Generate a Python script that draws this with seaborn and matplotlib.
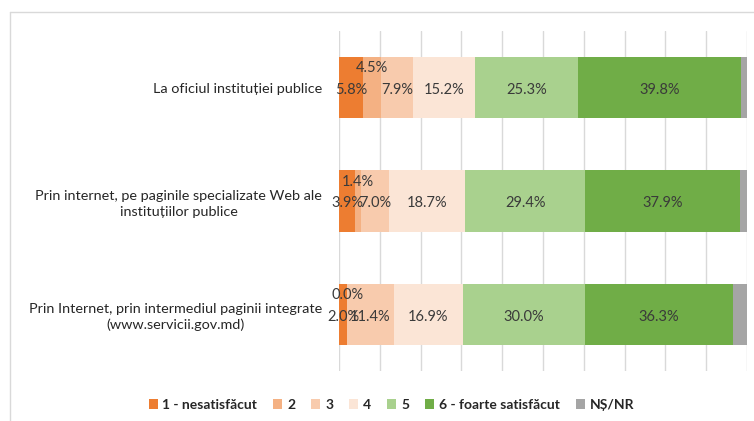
import matplotlib
matplotlib.use("Agg")
import matplotlib.pyplot as plt
import numpy as np
import pandas as pd
import seaborn as sns
from matplotlib.patches import Patch
from matplotlib.lines import Line2D

# Survey: satisfaction with how public services were accessed (shares, %)
channels = [
    "La oficiul instituției publice",
    "Prin internet, pe paginile specializate Web ale\ninstituțiilor publice",
    "Prin Internet, prin intermediul paginii integrate\n(www.servicii.gov.md)",
]
levels = ["1 - nesatisfăcut", "2", "3", "4", "5", "6 - foarte satisfăcut", "NȘ/NR"]

score_1 = [5.8, 3.9, 2.0]
score_2 = [4.5, 1.4, 0.0]
score_3 = [7.9, 7.0, 11.4]
score_4 = [15.2, 18.7, 16.9]
score_5 = [25.3, 29.4, 30.0]
score_6 = [39.8, 37.9, 36.3]
ns_nr = [1.5, 1.7, 3.4]

colors = ["#ED7D31", "#F4B183", "#F8CBAD", "#FBE5D6", "#A9D18E", "#70AD47", "#A5A5A5"]

series = [score_1, score_2, score_3, score_4, score_5, score_6, ns_nr]
df = pd.DataFrame({lvl: vals for lvl, vals in zip(levels, series)}, index=channels)
cum = df.cumsum(axis=1)

sns.set_style("white")
plt.rcParams["font.family"] = ["Lato", "DejaVu Sans"]

fig = plt.figure(figsize=(7.54, 4.21), dpi=100)
ax = fig.add_axes([339 / 754, 1 - 371 / 421, 408 / 754, 340 / 421])

# Stacked bars: draw cumulative totals from the outermost layer inwards
for lvl, col in zip(reversed(levels), reversed(colors)):
    sns.barplot(x=cum[lvl].values, y=channels, orient="h", color=col,
                width=0.54, saturation=1, ax=ax, linewidth=0, zorder=2)

# Value labels (category 2 is lifted above the others to avoid overlap)
for i, ch in enumerate(channels):
    for j, lvl in enumerate(levels[:-1]):
        v = df.loc[ch, lvl]
        xc = cum.loc[ch, lvl] - v / 2
        dy = -0.17 if j == 1 else 0.02
        ax.text(xc, i + dy, f"{v:.1f}%", ha="center", va="center",
                fontsize=10.5, color="#3A3A3A", zorder=3)

ax.set_xlim(0, 100)
ax.set_ylim(2.5, -0.5)
ax.set_xticks(np.arange(0, 101, 10))
ax.set_xticklabels([])
ax.tick_params(axis="x", length=0)
ax.tick_params(axis="y", length=0, pad=12)
ax.grid(axis="x", color="#D9D9D9", linewidth=1, zorder=0)
ax.set_axisbelow(True)
for s in ax.spines.values():
    s.set_visible(False)
ax.set_xlabel("")
ax.set_ylabel("")
for lab in ax.get_yticklabels():
    lab.set_fontsize(10.4)
    lab.set_color("#262626")
    lab.set_multialignment("center")
    lab.set_linespacing(1.35)

handles = [Patch(facecolor=c, edgecolor="none") for c in colors]
fig.legend(handles, levels, loc="center", bbox_to_anchor=(0.519, 0.038), ncol=7,
           frameon=False, handlelength=0.65, handleheight=0.65, handletextpad=0.35,
           columnspacing=1.15, prop={"weight": "bold", "size": 10})

# Light outer frame
fig.add_artist(Line2D([10 / 754, 10 / 754], [0, 1 - 12 / 421], color="#D9D9D9", lw=1))
fig.add_artist(Line2D([10 / 754, 1], [1 - 12 / 421, 1 - 12 / 421], color="#D9D9D9", lw=1))

fig.savefig("out.png", dpi=100)
